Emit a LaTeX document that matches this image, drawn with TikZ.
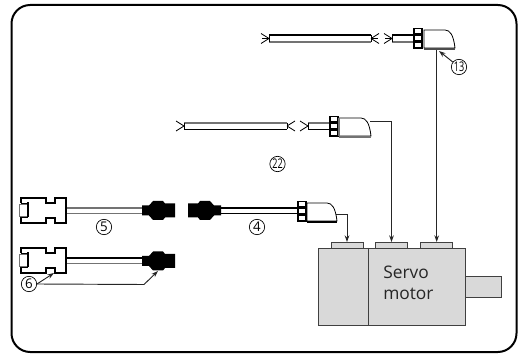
\documentclass[tikz,border=0pt]{standalone}
\usepackage{fontspec}
\setmainfont{Open Sans}
\usetikzlibrary{arrows.meta}
\definecolor{mgray}{gray}{0.85}
\tikzset{
 x=0.75pt,y=-0.75pt,
 frame/.style={draw=black,line width=1.5pt,rounded corners=14pt,fill=white},
 ln/.style={draw=black,line width=0.6pt},
 gln/.style={draw=black!55,line width=0.9pt},
 arr/.style={draw=black!85,line width=0.7pt,-{Stealth[length=5pt,width=3.5pt]}},
 num/.style={circle,draw=black,line width=0.5pt,inner sep=0pt,minimum size=11.5pt,font=\fontsize{10}{10}\selectfont},
 mot/.style={draw=black!75,fill=mgray,line width=0.7pt},
 mtext/.style={font=\fontsize{13}{15.5}\selectfont,text=black!85,align=left,inner sep=0pt},
}
% left-hand leads: x, y mid
\newcommand{\leadsL}[2]{\draw[ln] (#1,#2) -- +(-8,-5) (#1,#2) -- +(-8,5);}
\newcommand{\leadsR}[2]{\draw[ln] (#1,#2) -- +(8,-5) (#1,#2) -- +(8,5);}
% collar: x, ytop
\newcommand{\collar}[2]{%
 \fill[black] (#1,#2) rectangle (#1+9.5,#2+21);
 \foreach \k in {1.5,8.5,15.5}{\fill[white] (#1+1.5,#2+\k) rectangle (#1+8,#2+\k+3.5);}
}
% L-body: x, ytop, width, base colour
\newcommand{\lbody}[4]{%
 \draw[ln,fill=white] (#1,#2) -- (#1+#3-10,#2) .. controls (#1+#3-5,#2) and (#1+#3-1.5,#2+5) .. (#1+#3,#2+18) -- (#1,#2+18) -- cycle;
 \draw[#4,line width=1.1pt] (#1,#2+19) -- (#1+#3,#2+19);
}
% dsub: ytop
\newcommand{\dsub}[1]{%
 \draw[black!55,line width=0.6pt,fill=white] (19.5,#1+6) rectangle (28,#1+18);
 \draw[draw=black,line width=0.8pt] (21,#1+5) -- (21,#1) -- (46,#1) -- (46,#1+5) -- (55,#1+5) -- (55,#1) -- (66,#1) -- (66,#1+25) -- (55,#1+25) -- (55,#1+20) -- (46,#1+20) -- (46,#1+25) -- (21,#1+25) -- (21,#1+19);
 \draw[draw=black,line width=1pt] (28,#1+4.5) -- (28,#1+19.5);
 \draw[ln] (21,#1+5) -- (28,#1+5) (21,#1+19) -- (28,#1+19);
}
% black plug: x origin, direction, y centre
\newcommand{\plug}[3]{%
 \fill[black] (#1,#3-5) -- (#1+#2*7,#3-5) -- (#1+#2*11,#3-9.5) -- (#1+#2*21,#3-9.5) -- (#1+#2*23,#3-7) -- (#1+#2*33,#3-7) -- (#1+#2*33,#3+7) -- (#1+#2*23,#3+7) -- (#1+#2*21,#3+9.5) -- (#1+#2*11,#3+9.5) -- (#1+#2*7,#3+5) -- (#1,#3+5) -- cycle;
}
\begin{document}
\begin{tikzpicture}
\useasboundingbox (0,0) rectangle (518,356);
\fill[white] (0,0) rectangle (518,356);
\draw[frame] (11.5,5) rectangle (516.5,352);
% top cable
\leadsL{269}{38.5} \draw[ln] (269,38.5) -- (262,38.5);
\leadsR{371}{38.5} \draw[ln] (371,38.5) -- (378,38.5);
\leadsL{392}{38.5} \draw[ln] (392,38.5) -- (385,38.5);
\draw[draw=black,line width=1pt] (269,35) -- (371,35) (392,35) -- (414,35);
\draw[gln] (269,42) -- (371,42) (392,42) -- (414,42);
\draw[ln] (269,35) -- (269,42) (371,35) -- (371,42) (392,35) -- (392,42);
\collar{413}{28}
\lbody{424}{30}{31}{black!70}
% middle cable
\leadsL{184}{126} \leadsR{287}{126} \leadsL{308}{126}
\draw[gln] (184,123) -- (287,123) (308,123) -- (330,123);
\draw[draw=black,line width=1pt] (184,129.5) -- (287,129.5) (308,129.5) -- (330,129.5);
\draw[ln] (184,123) -- (184,129.5) (287,123) -- (287,129.5) (308,123) -- (308,129.5);
\collar{329}{116}
\lbody{339}{118}{32}{black!55}
\draw[gln] (339,118) -- (339,136);
% motor
\draw[mot] (318.3,248) rectangle (465,325);
\draw[mot] (368.7,248) -- (368.7,325);
\draw[mot] (465,276) rectangle (501.7,297);
\foreach \x in {331,375.5,420.5}{\draw[mot] (\x,242.7) rectangle (\x+32,248);}
\node[mtext,anchor=north west] at (383,266) {Servo\\motor};
% leads
\coordinate (e13) at (436.7,50); \coordinate (m13) at (436.7,242);
\draw[arr] (e13) -- (m13);
\draw[arr] (370,121.7) -- (391.5,121.7) -- (391.5,242);
\draw[arr] (333,214) -- (347,214) -- (347,242);
% cables 4/5/6
\draw[gln] (66,208) -- (142,208) (66,213.5) -- (142,213.5);
\draw[draw=black,line width=0.9pt] (66,258) -- (142,258);
\draw[gln] (66,263.5) -- (142,263.5);
\draw[draw=black,line width=0.9pt] (220,208) -- (297,208) (220,213.5) -- (297,213.5);
\dsub{198}
\dsub{248}
\plug{142}{1}{210.5}
\plug{142}{1}{261}
\plug{221}{-1}{210.5}
\collar{297}{201}
\lbody{307}{203}{30}{black}
% labels
\node[num] (n13) at (459,67) {\scalebox{.68}[1]{13}};
\draw[arr] (n13) -- (439,51);
\node[num] at (277.5,164) {\scalebox{.68}[1]{22}};
\node[num] at (104,227) {5};
\node[num] at (257,227) {4};
\node[num] (n6) at (29,284) {6};
\draw[arr] (n6.east) -- (54,273);
\draw[arr] (n6.east) -- (144,284.5) -- (158,271);
\end{tikzpicture}
\end{document}
